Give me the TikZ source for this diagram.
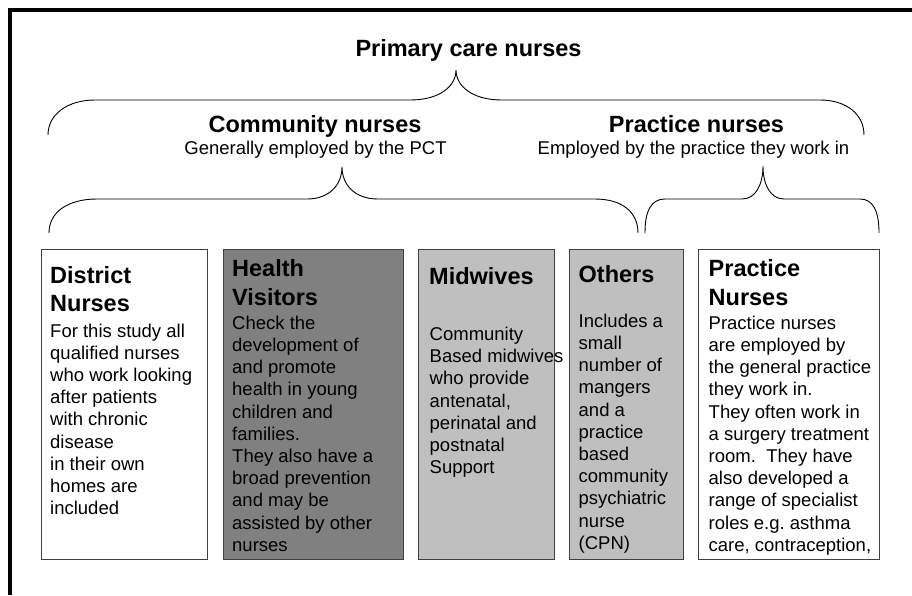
\documentclass[tikz,border=0pt]{standalone}
\usepackage{fontspec}
\setmainfont{Liberation Sans}
\frenchspacing
\newcommand\mylines[1]{\begin{tabular}[t]{@{}l@{}}#1\end{tabular}}
\begin{document}
\begin{tikzpicture}[x=1pt,y=-1pt,
  nbox/.style={draw=black!75, line width=0.9pt, anchor=north west, inner sep=0pt, minimum height=310pt},
  ttl/.style={anchor=base west, inner sep=0pt, font=\fontsize{23.5}{28.3}\selectfont\bfseries},
  bodytxt/.style={anchor=base west, inner sep=0pt, font=\fontsize{18.5}{22.2}\selectfont},
  head/.style={anchor=base, inner sep=0pt, font=\fontsize{23.5}{28}\selectfont\bfseries},
  subtxt/.style={anchor=base, inner sep=0pt, font=\fontsize{18.5}{22.2}\selectfont},
  brace/.style={draw=black, line width=0.9pt}]
\useasboundingbox (0,0) rectangle (912,595);
% frame
\draw[line width=3.3pt] (10,595) -- (10,10) -- (912,10);
% headings
\node[head] (primary) at (468.5,56.7) {Primary care nurses};
\node[head] (community) at (315,132.3) {Community nurses};
\node[subtxt] (communitysub) at (315.5,154.5) {Generally employed by the PCT};
\node[head] (practice) at (696.5,132.3) {Practice nurses};
\node[subtxt] (practicesub) at (693.5,154.5) {Employed by the practice they work in};
% braces
\draw[brace] (48,135) .. controls (48,114) and (68,100) .. (95,100) -- (410,100)
  .. controls (440,100) and (456,86) .. (456,70)
  .. controls (456,86) and (472,100) .. (502,100) -- (820,100)
  .. controls (846,100) and (864,114) .. (864,135);
\draw[brace] (49,233) .. controls (49,212) and (68,199) .. (97,199) -- (307,199)
  .. controls (330,199) and (342,184) .. (342,167)
  .. controls (342,184) and (354,199) .. (378,199) -- (595,199)
  .. controls (622,199) and (638,212) .. (638,233);
\draw[brace] (645,233) .. controls (645,211) and (651,199) .. (665,199) -- (742,199)
  .. controls (756,199) and (763,184) .. (763,166)
  .. controls (763,184) and (770,199) .. (784,199) -- (860,199)
  .. controls (873,199) and (879,211) .. (879,233);
% boxes
\node[nbox, fill=white, minimum width=166pt] (district) at (41,249) {};
\node[nbox, fill=black!50, minimum width=180pt] (health) at (223,249) {};
\node[nbox, fill=black!25, minimum width=136pt] (midwives) at (418,249) {};
\node[nbox, fill=black!25, minimum width=114pt] (others) at (569,249) {};
\node[nbox, fill=white, minimum width=181pt] (pnurses) at (698,249) {};
% box texts
\node[ttl] (districtT) at (50,283.3) {\mylines{District\\Nurses}};
\node[bodytxt] (districtB) at (50,337) {\mylines{For this study all\\qualified nurses\\who work looking\\after patients\\with chronic\\disease\\in their own\\homes are\\included}};
\node[ttl] (healthT) at (232,276.7) {\mylines{Health\\Visitors}};
\node[bodytxt] (healthB) at (232,329.2) {\mylines{Check the\\development of\\and promote\\health in young\\children and\\families.\\They also have a\\broad prevention\\and may be\\assisted by other\\nurses}};
\node[ttl] (midwivesT) at (429,284) {Midwives};
\node[bodytxt] (midwivesB) at (429.5,340.5) {\mylines{Community\\Based midwives\\who provide\\antenatal,\\perinatal and\\postnatal\\Support}};
\node[ttl] (othersT) at (578.5,282) {Others};
\node[bodytxt] (othersB) at (578.5,327.2) {\mylines{Includes a\\small\\number of\\mangers\\and a\\practice\\based\\community\\psychiatric\\nurse\\(CPN)}};
\node[ttl] (pnursesT) at (708.5,276.7) {\mylines{Practice\\Nurses}};
\node[bodytxt] (pnursesB) at (708.5,329.2) {\mylines{Practice nurses\\are employed by\\the general practice\\they work in.\\They often work in\\a surgery treatment\\room.~ They have\\also developed a\\range of specialist\\roles e.g. asthma\\care, contraception,}};
\end{tikzpicture}
\end{document}
